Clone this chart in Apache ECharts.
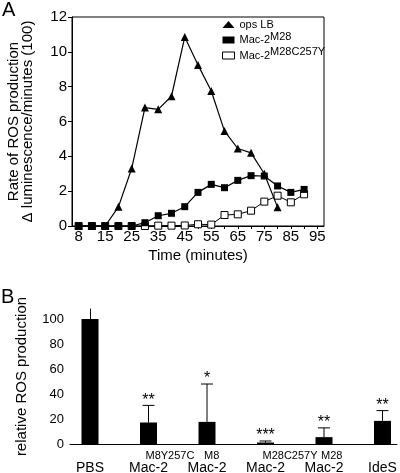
<!DOCTYPE html>
<html>
<head>
<meta charset="utf-8">
<script src="https://cdn.jsdelivr.net/npm/echarts@6/dist/echarts.min.js"></script>
<style>html,body{margin:0;padding:0;background:#fff;}#c{width:400px;height:473px;}</style>
</head>
<body>
<div id="c"></div>
<script>
// ---- Panel A data ----
var timeCategories = ['8','10','15','20','25','30','35','40','45','50','55','60','65','70','75','80','85','90','95'];
var opsLB = [0, 0, 0, 1.1, 3.3, 6.8, 6.7, 7.45, 10.85, 9.25, 7.75, 5.45, 4.45, 4.2, 3.0, 1.07];
var macM28 = [0, 0, 0, 0, 0, 0.19, 0.59, 0.73, 1.11, 1.93, 2.39, 2.2, 2.62, 2.89, 2.87, 2.3, 1.93, 2.1];
var macM28C257Y = [0, 0, 0, 0, 0, 0, 0.02, 0.02, 0.03, 0.1, 0.08, 0.63, 0.67, 0.88, 1.4, 1.74, 1.36, 1.82];
var yTicksA = [0, 2, 4, 6, 8, 10, 12];

// ---- Panel B data ----
var groupMain = ['PBS', 'Mac-2', 'Mac-2', 'Mac-2', 'Mac-2', 'IdeS'];
var groupSup = ['', 'M8Y257C', 'M8', 'M28C257Y', 'M28', ''];
var relROS = [100, 17.2, 17.7, 1.2, 5.5, 18.5];
var relROSErr = [0, 13.7, 30.3, 1.2, 7.4, 8.2];
var stars = ['', '**', '*', '***', '**', '**'];
var yTicksB = [0, 20, 40, 60, 80, 100];
var groupIndex = [0, 1, 2, 3, 4, 5];

var FONT = '"Liberation Sans", Arial, sans-serif';
var chart = echarts.init(document.getElementById('c'), null, {renderer: 'canvas'});

var barData = relROS.map(function (v, i) { return [groupIndex[i], v]; });
var errData = relROS.map(function (v, i) { return [groupIndex[i], v, relROSErr[i]]; });

var legendRich = {
  m: {fontSize: 11, lineHeight: 18, fontFamily: FONT, color: '#000'},
  s: {fontSize: 11, lineHeight: 2, verticalAlign: 'top', fontFamily: FONT, color: '#000'}
};

var option = {
  animation: false,
  backgroundColor: '#fff',
  textStyle: {fontFamily: FONT, color: '#000'},
  graphic: [
    {type: 'text', left: 2, top: 0, style: {text: 'A', font: '20px ' + FONT, fill: '#000'}},
    {type: 'text', left: 1, top: 287, style: {text: 'B', font: '20px ' + FONT, fill: '#000'}}
  ],
  grid: [
    {left: 72, right: 76, top: 17, bottom: 247, show: true, borderColor: '#000', borderWidth: 1, backgroundColor: 'transparent', outerBoundsMode: 'none', containLabel: false},
    {left: 70, right: 3, top: 309, bottom: 29, outerBoundsMode: 'none', containLabel: false}
  ],
  legend: {
    orient: 'vertical',
    left: 217,
    top: 14,
    itemWidth: 12,
    itemHeight: 7,
    itemGap: 1,
    symbolKeepAspect: true,
    data: [
      {name: 'ops LB', icon: 'triangle', itemStyle: {color: '#000', borderWidth: 0}},
      {name: 'Mac-2 M28', icon: 'rect', itemStyle: {color: '#000', borderWidth: 0}},
      {name: 'Mac-2 M28C257Y', icon: 'rect', itemStyle: {color: '#fff', borderColor: '#000', borderWidth: 1}}
    ],
    formatter: function (name) {
      if (name === 'ops LB') return '{m|ops LB}';
      var parts = name.split(' ');
      return '{m|' + parts[0] + '}{s|' + parts[1] + '}';
    },
    textStyle: {rich: legendRich, fontSize: 11, fontFamily: FONT, color: '#000'}
  },
  xAxis: [
    {
      gridIndex: 0, type: 'category', data: timeCategories, boundaryGap: true,
      name: 'Time (minutes)', nameLocation: 'middle', nameGap: 22,
      nameTextStyle: {fontSize: 15, fontFamily: FONT, color: '#000'},
      axisLine: {lineStyle: {color: '#000', width: 1}},
      axisTick: {show: true, interval: 0, alignWithLabel: true, length: 3, lineStyle: {color: '#000'}},
      axisLabel: {interval: 1, fontSize: 15, margin: 3, color: '#000', fontFamily: FONT},
      splitLine: {show: false}
    },
    {
      gridIndex: 1, type: 'value', min: -0.342, max: 5.248,
      axisLine: {onZero: false, lineStyle: {color: '#000', width: 1}},
      axisTick: {show: false},
      splitLine: {show: false},
      axisLabel: {
        customValues: groupIndex,
        showMinLabel: true,
        showMaxLabel: true,
        margin: 17,
        fontSize: 14,
        lineHeight: 14,
        color: '#000',
        fontFamily: FONT,
        formatter: function (v) {
          var i = Math.round(v);
          return (i >= 0 && i < groupMain.length) ? groupMain[i] : '';
        }
      }
    }
  ],
  yAxis: [
    {
      gridIndex: 0, type: 'value', min: 0, max: 12, interval: 2,
      name: 'Rate of ROS production\nΔ luminescence/minutes (100)',
      nameLocation: 'middle', nameGap: 37,
      nameTextStyle: {fontSize: 15, lineHeight: 14, fontFamily: FONT, color: '#000'},
      axisLine: {show: true, lineStyle: {color: '#000', width: 1}},
      axisTick: {show: true, length: 4, lineStyle: {color: '#000'}},
      axisLabel: {fontSize: 15, margin: 5, color: '#000', fontFamily: FONT},
      splitLine: {show: false}
    },
    {
      gridIndex: 1, type: 'value', min: 0, max: 108,
      name: 'relative ROS production', nameLocation: 'middle', nameGap: 41,
      nameTextStyle: {fontSize: 15, fontFamily: FONT, color: '#000'},
      axisLine: {show: true, lineStyle: {color: '#000', width: 1}},
      axisTick: {show: true, length: 3, customValues: yTicksB, lineStyle: {color: '#000'}},
      axisLabel: {fontSize: 13, margin: 6, color: '#000', fontFamily: FONT, customValues: yTicksB},
      splitLine: {show: false}
    }
  ],
  series: [
    {
      name: 'ops LB', type: 'line', xAxisIndex: 0, yAxisIndex: 0, data: opsLB,
      symbol: 'triangle', symbolSize: 8, showSymbol: true,
      lineStyle: {color: '#000', width: 1.2},
      itemStyle: {color: '#000', borderWidth: 0},
      z: 3
    },
    {
      name: 'Mac-2 M28', type: 'line', xAxisIndex: 0, yAxisIndex: 0, data: macM28,
      symbol: 'rect', symbolSize: 7, showSymbol: true,
      lineStyle: {color: '#000', width: 1.2},
      itemStyle: {color: '#000', borderWidth: 0},
      z: 4
    },
    {
      name: 'Mac-2 M28C257Y', type: 'line', xAxisIndex: 0, yAxisIndex: 0, data: macM28C257Y,
      symbol: 'rect', symbolSize: 7, showSymbol: true,
      lineStyle: {color: '#000', width: 1},
      itemStyle: {color: '#fff', borderColor: '#000', borderWidth: 1},
      z: 2
    },
    {
      name: 'relROS', type: 'bar', xAxisIndex: 1, yAxisIndex: 1, data: barData,
      barWidth: 17, itemStyle: {color: '#000'}, z: 2
    },
    {
      name: 'err', type: 'custom', xAxisIndex: 1, yAxisIndex: 1, data: errData, z: 3, clip: false,
      renderItem: function (params, api) {
        var i = api.value(0), v = api.value(1), e = api.value(2);
        var base = api.coord([i, v]);
        var top = api.coord([i, v + e]);
        var zero = api.coord([i, 0]);
        var children = [];
        if (e > 0) {
          children.push({type: 'line', shape: {x1: base[0], y1: base[1], x2: top[0], y2: top[1]}, style: {stroke: '#000', lineWidth: 1}});
          children.push({type: 'line', shape: {x1: top[0] - 6, y1: top[1], x2: top[0] + 6, y2: top[1]}, style: {stroke: '#000', lineWidth: 1}});
        }
        var s = stars[params.dataIndex];
        if (s) {
          children.push({type: 'text', style: {text: s, x: top[0], y: top[1] + 3, align: 'center', verticalAlign: 'bottom', font: '16px ' + FONT, fill: '#000'}});
        }
        var sup = groupSup[params.dataIndex];
        if (sup) {
          children.push({type: 'text', style: {text: sup, x: zero[0] - 3, y: zero[1] + 12, align: 'left', verticalAlign: 'middle', font: '11px ' + FONT, fill: '#000'}});
        }
        return {type: 'group', children: children};
      }
    }
  ]
};
chart.setOption(option);
</script>
</body>
</html>
